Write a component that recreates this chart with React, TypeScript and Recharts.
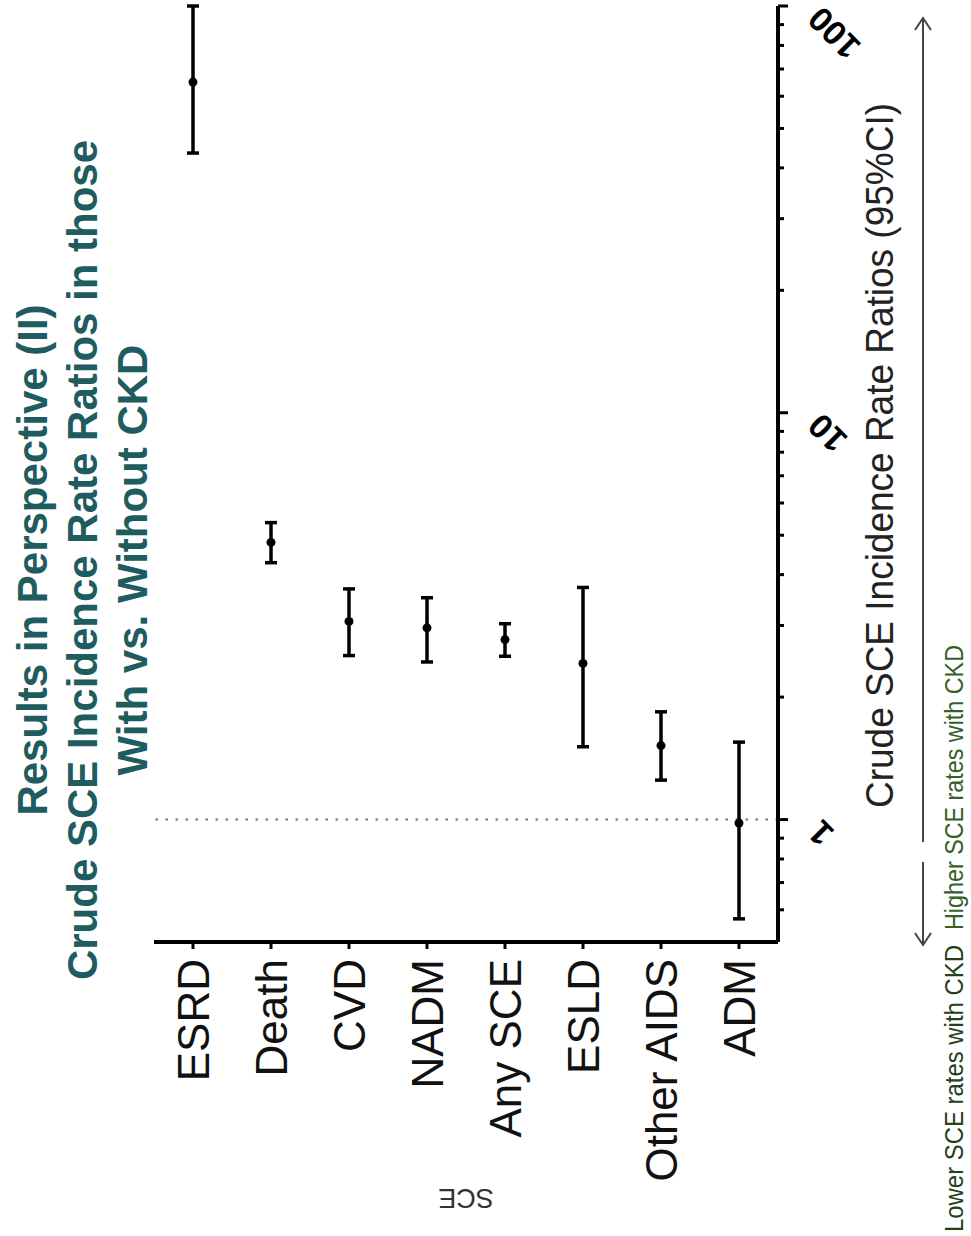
import React from "react";
import {
  ComposedChart,
  ErrorBar,
  ReferenceLine,
  Scatter,
  XAxis,
  YAxis,
} from "recharts";

// crude incidence rate ratios (with vs. without CKD) and 95% CI per event
const events = ["ESRD", "Death", "CVD", "NADM", "Any SCE", "ESLD", "Other AIDS", "ADM"];
const ratios = [65, 4.8, 3.07, 2.96, 2.77, 2.42, 1.52, 0.98];
const lowerCI = [43.5, 4.28, 2.53, 2.44, 2.52, 1.51, 1.25, 0.57];
const upperCI = [100, 5.37, 3.69, 3.51, 3.03, 3.72, 1.84, 1.55];

const majorTicks = [1, 10, 100];
const minorTicks = [0.6, 0.7, 0.8, 0.9, 2, 3, 4, 5, 6, 7, 8, 9, 20, 30, 40, 50, 60, 70, 80, 90];

const titleLines = [
  "Results in Perspective (II)",
  "Crude SCE Incidence Rate Ratios in those",
  "With vs. Without CKD",
];

const rows = events.map((name, i) => ({
  name,
  irr: ratios[i],
  ci: [ratios[i] - lowerCI[i], upperCI[i] - ratios[i]],
}));

const allTicks = [...majorTicks, ...minorTicks].sort((a, b) => a - b);

function EventTick({ x, y, payload }: any) {
  return (
    <text
      x={x}
      y={y + 10}
      transform={`rotate(-90 ${x} ${y + 10})`}
      textAnchor="end"
      dominantBaseline="central"
      fontFamily="'Liberation Sans', Arial, sans-serif"
      fontSize={44}
      fill="#111"
    >
      {payload.value}
    </text>
  );
}

function RatioTick({ x, y, payload }: any) {
  const v = payload.value;
  const major = majorTicks.includes(v);
  const lx = x + 36;
  const ly = y + 7;
  return (
    <g>
      <line x1={x} x2={x + (major ? 10 : 6)} y1={y} y2={y} stroke="#000" strokeWidth={3} />
      {major && (
        <text
          x={lx}
          y={ly}
          transform={`rotate(-135 ${lx} ${ly})`}
          textAnchor="end"
          dominantBaseline="central"
          fontFamily="'Liberation Sans', Arial, sans-serif"
          fontWeight="bold"
          fontSize={34}
          fill="#000"
        >
          {v}
        </text>
      )}
    </g>
  );
}

const Dot = (p: any) => <circle cx={p.cx} cy={p.cy} r={4.5} fill="#000" />;

export default function App() {
  return (
    <div
      style={{
        position: "absolute",
        left: 0,
        top: 0,
        width: 971,
        height: 1236,
        background: "#fff",
      }}
    >
      <ComposedChart
        width={971}
        height={1236}
        data={rows}
        margin={{ top: 6, right: 133, bottom: 234, left: 154 }}
      >
        <XAxis
          dataKey="name"
          type="category"
          interval={0}
          height={60}
          padding={{ left: 39, right: 39 }}
          tick={<EventTick />}
          tickSize={7}
          tickMargin={0}
          tickLine={{ stroke: "#000", strokeWidth: 3 }}
          axisLine={{ stroke: "#000", strokeWidth: 4 }}
        />
        <YAxis
          orientation="right"
          type="number"
          scale="log"
          domain={[0.5, 100]}
          allowDataOverflow
          ticks={allTicks}
          interval={0}
          width={60}
          tick={<RatioTick />}
          tickLine={false}
          tickSize={0}
          tickMargin={0}
          axisLine={{ stroke: "#000", strokeWidth: 4 }}
        />
        <ReferenceLine y={1} stroke="#8a8a8a" strokeWidth={2.5} strokeDasharray="2.5 7.5" />
        <Scatter dataKey="irr" fill="#000" shape={<Dot />} isAnimationActive={false}>
          <ErrorBar dataKey="ci" direction="y" width={6} strokeWidth={3.5} stroke="#000" />
        </Scatter>
      </ComposedChart>

      <svg
        width={971}
        height={1236}
        style={{ position: "absolute", left: 0, top: 0, pointerEvents: "none" }}
      >
        {titleLines.map((line, i) => {
          const bx = 47 + i * 50;
          return (
            <text
              key={line}
              x={bx}
              y={560}
              transform={`rotate(-90 ${bx} 560)`}
              textAnchor="middle"
              fontFamily="'Liberation Sans', Arial, sans-serif"
              fontWeight="bold"
              fontSize={42}
              fill="#1e5c60"
            >
              {line}
            </text>
          );
        })}

        <text
          x={466}
          y={1198}
          transform="rotate(180 466 1198)"
          textAnchor="middle"
          dominantBaseline="central"
          fontFamily="'Liberation Sans', Arial, sans-serif"
          fontSize={27}
          fill="#333"
        >
          SCE
        </text>

        <text
          x={893}
          y={808}
          transform="rotate(-90 893 808)"
          textLength={705}
          lengthAdjust="spacingAndGlyphs"
          fontFamily="'Liberation Sans', Arial, sans-serif"
          fontSize={38}
          fill="#222"
        >
          Crude SCE Incidence Rate Ratios (95%CI)
        </text>

        <g stroke="#444" strokeWidth={2} fill="none">
          <line x1={923} x2={923} y1={18} y2={842} />
          <polyline points="915,30 923,18 931,30" />
          <line x1={923} x2={923} y1={862} y2={945} />
          <polyline points="915,933 923,945 931,933" />
        </g>

        <text
          x={963}
          y={1232}
          transform="rotate(-90 963 1232)"
          textLength={287}
          lengthAdjust="spacingAndGlyphs"
          fontFamily="'Liberation Sans', Arial, sans-serif"
          fontSize={26}
          fill="#24401c"
        >
          Lower SCE rates with CKD
        </text>
        <text
          x={963}
          y={930}
          transform="rotate(-90 963 930)"
          textLength={285}
          lengthAdjust="spacingAndGlyphs"
          fontFamily="'Liberation Sans', Arial, sans-serif"
          fontSize={26}
          fill="#35602a"
        >
          Higher SCE rates with CKD
        </text>
      </svg>
    </div>
  );
}
